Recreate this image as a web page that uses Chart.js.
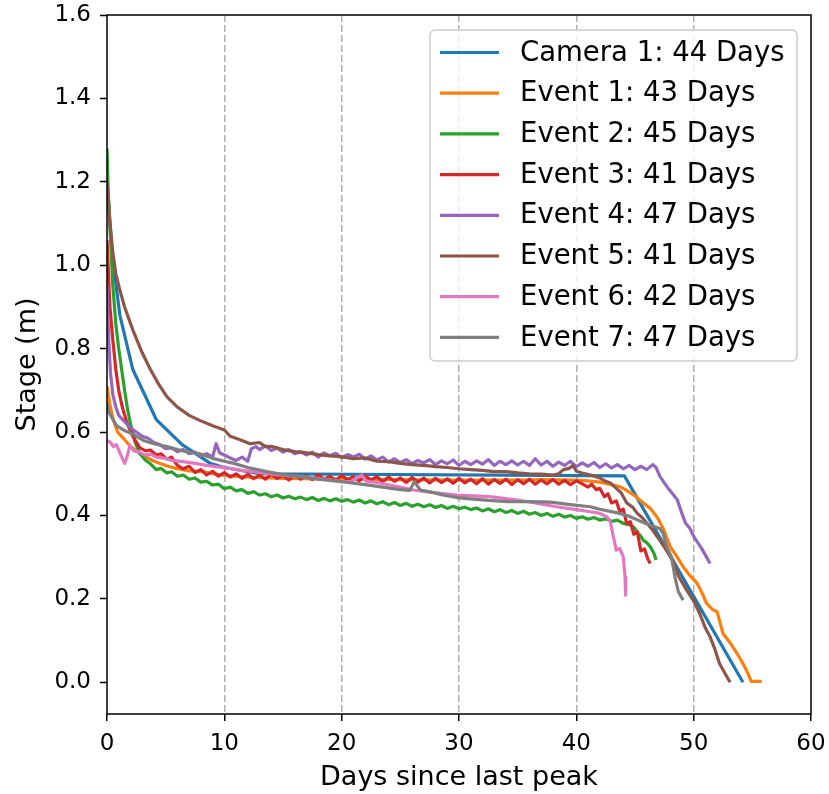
<!DOCTYPE html>
<html>
<head>
<meta charset="utf-8">
<script src="https://cdn.jsdelivr.net/npm/chart.js@4.4.0/dist/chart.umd.min.js"></script>
<style>
  html, body { margin: 0; padding: 0; background: #fff; }
  #wrap { width: 829px; height: 794px; }
</style>
</head>
<body>
<div id="wrap"><canvas id="stageChart" width="829" height="794"></canvas></div>
<script>
// ======================
// DATA  (days since last peak, stage in m)
// ======================
const seriesNames = [
    "Camera 1: 44 Days", "Event 1: 43 Days", "Event 2: 45 Days", "Event 3: 41 Days",
    "Event 4: 47 Days", "Event 5: 41 Days", "Event 6: 42 Days", "Event 7: 47 Days"
];
const seriesColors = ["#1f77b4", "#ff7f0e", "#2ca02c", "#d62728", "#9467bd", "#8c564b", "#e377c2", "#7f7f7f"];

const xTickValues = [0, 10, 20, 30, 40, 50, 60];
const yTickValues = [0.0, 0.2, 0.4, 0.6, 0.8, 1.0, 1.2, 1.4, 1.6];

const camera1 = [[0,1.2],[0.5,1.01],[1.1,0.88],[2.2,0.75],[4.2,0.63],[6.4,0.57],[8.8,0.525],[10,0.515],
    [13,0.5],[44.1,0.495],[54.2,0.0]];

const event1 = [[0,0.71],[0.25,0.665],[0.54,0.629],[0.9,0.6],[1.4,0.585],[2,0.565],[2.8,0.549],[4,0.53],
    [5,0.52],[6,0.512],[7,0.507],[8.2,0.505],[9,0.5],[10,0.496],[12,0.492],[15,0.489],[20,0.487],[25,0.486],
    [30,0.485],[35,0.485],[37,0.486],[40,0.485],[41,0.483],[42,0.48],[42.5,0.477],[43,0.474],[43.7,0.469],
    [44.3,0.46],[45.1,0.445],[45.7,0.43],[46.3,0.417],[46.9,0.395],[47.4,0.369],[48,0.325],[48.6,0.3],
    [49.1,0.277],[49.7,0.255],[50.3,0.237],[50.7,0.215],[51.1,0.189],[51.6,0.175],[52,0.169],[52.5,0.117],
    [53.1,0.095],[53.7,0.069],[54.1,0.05],[54.5,0.029],[54.9,0.002],[55.8,0.002]];

const event2 = [[0,1.28],[0.1,1.18],[0.25,1.09],[0.5,0.95],[0.75,0.86],[1,0.8],[1.25,0.75],[1.5,0.7],
    [1.75,0.655],[2,0.62],[2.4,0.575],[2.8,0.548],[3.3,0.532],[3.7,0.524],[4.2,0.51],[4.6,0.513],[5.1,0.502],
    [5.5,0.505],[6,0.494],[6.5,0.497],[7,0.487],[7.5,0.49],[8,0.48],[8.5,0.482],[9,0.473],[9.5,0.475],
    [10,0.464],[10.5,0.468],[11,0.459],[11.5,0.462],[12,0.453],[12.5,0.457],[13,0.449],[13.5,0.452],
    [14,0.445],[14.5,0.449],[15,0.442],[15.5,0.446],[16,0.44],[16.5,0.444],[17,0.438],[17.5,0.443],
    [18,0.436],[18.5,0.441],[19,0.435],[19.5,0.44],[20,0.434],[20.5,0.438],[21,0.432],[21.5,0.437],
    [22,0.43],[22.5,0.435],[23,0.428],[23.5,0.433],[24,0.426],[24.5,0.431],[25,0.424],[25.5,0.429],
    [26,0.422],[26.5,0.427],[27,0.421],[27.5,0.426],[28,0.419],[28.5,0.424],[29,0.417],[29.5,0.422],
    [30,0.416],[30.5,0.42],[31,0.414],[31.5,0.418],[32,0.411],[32.5,0.416],[33,0.409],[33.5,0.414],
    [34,0.407],[34.5,0.412],[35,0.405],[35.5,0.41],[36,0.403],[36.5,0.407],[37,0.4],[37.5,0.405],
    [38,0.398],[38.5,0.403],[39,0.396],[39.5,0.4],[40,0.393],[40.5,0.397],[41,0.391],[41.5,0.395],
    [42,0.389],[42.5,0.392],[43,0.386],[43.5,0.389],[44,0.381],[44.5,0.378],[44.9,0.372],[45.2,0.36],
    [45.5,0.35],[45.7,0.341],[46,0.335],[46.3,0.325],[46.6,0.31],[46.8,0.293]];

const event3 = [[0,1.06],[0.25,0.9],[0.5,0.82],[0.75,0.75],[1,0.7],[1.3,0.66],[1.7,0.622],[2.2,0.59],
    [2.8,0.562],[3.3,0.555],[3.7,0.557],[4.2,0.545],[4.6,0.548],[5.1,0.535],[5.5,0.54],[6,0.52],[6.5,0.512],
    [7,0.518],[7.5,0.503],[8,0.51],[8.5,0.497],[9,0.506],[9.5,0.494],[10,0.503],[10.5,0.492],[11,0.5],
    [11.5,0.489],[12,0.499],[12.5,0.488],[13,0.497],[13.5,0.487],[14,0.499],[14.5,0.489],[15,0.496],
    [15.5,0.485],[16,0.497],[16.5,0.487],[17,0.495],[17.5,0.486],[18,0.498],[18.5,0.487],[19,0.494],
    [19.5,0.484],[20,0.496],[20.5,0.486],[21,0.493],[21.5,0.483],[22,0.495],[22.5,0.485],[23,0.493],
    [23.5,0.481],[24,0.492],[24.5,0.482],[25,0.49],[25.5,0.479],[26,0.491],[26.5,0.48],[27,0.49],
    [27.5,0.478],[28,0.489],[28.5,0.479],[29,0.488],[29.5,0.477],[30,0.489],[30.5,0.478],[31,0.487],
    [31.5,0.476],[32,0.488],[32.5,0.475],[33,0.486],[33.5,0.477],[34,0.487],[34.5,0.474],[35,0.486],
    [35.5,0.476],[36,0.487],[36.5,0.475],[37,0.485],[37.5,0.476],[38,0.486],[38.5,0.475],[39,0.484],
    [39.5,0.474],[40,0.483],[40.5,0.476],[41,0.468],[41.3,0.475],[41.7,0.462],[42,0.465],[42.4,0.445],
    [42.7,0.452],[43,0.43],[43.4,0.435],[43.7,0.41],[44,0.415],[44.3,0.38],[44.6,0.385],[44.9,0.355],
    [45.2,0.36],[45.5,0.315],[45.8,0.32],[46.1,0.295],[46.3,0.285]];

const event4 = [[0,0.95],[0.15,0.82],[0.3,0.74],[0.5,0.69],[0.75,0.66],[1,0.64],[1.5,0.625],[2,0.61],
    [2.5,0.6],[3,0.59],[3.5,0.585],[4,0.575],[4.5,0.57],[5,0.56],[5.5,0.562],[6,0.553],[6.5,0.558],
    [7,0.548],[7.5,0.552],[8,0.543],[8.5,0.548],[9,0.54],[9.3,0.572],[9.6,0.55],[10,0.545],[10.5,0.538],
    [11,0.532],[11.5,0.54],[12,0.53],[12.3,0.56],[12.7,0.565],[13,0.558],[13.5,0.567],[14,0.556],
    [14.5,0.562],[15,0.552],[15.5,0.558],[16,0.548],[16.5,0.553],[17,0.545],[17.5,0.552],[18,0.54],
    [18.5,0.55],[19,0.543],[19.5,0.549],[20,0.538],[20.5,0.546],[21,0.54],[21.5,0.547],[22,0.535],
    [22.5,0.543],[23,0.533],[23.5,0.54],[24,0.528],[24.5,0.536],[25,0.527],[25.5,0.534],[26,0.524],
    [26.5,0.532],[27,0.526],[27.5,0.534],[28,0.522],[28.5,0.531],[29,0.524],[29.5,0.533],[30,0.52],
    [30.5,0.53],[31,0.522],[31.5,0.531],[32,0.523],[32.5,0.534],[33,0.52],[33.5,0.53],[34,0.522],
    [34.5,0.531],[35,0.521],[35.5,0.53],[36,0.52],[36.5,0.536],[37,0.521],[37.5,0.53],[38,0.518],
    [38.5,0.528],[39,0.52],[39.5,0.53],[40,0.517],[40.5,0.526],[41,0.518],[41.5,0.527],[42,0.515],
    [42.5,0.524],[43,0.514],[43.5,0.522],[44,0.512],[44.5,0.52],[45,0.51],[45.5,0.518],[46,0.51],
    [46.5,0.522],[46.8,0.515],[47.1,0.495],[47.5,0.478],[47.8,0.466],[48.2,0.452],[48.6,0.438],[49,0.405],
    [49.3,0.382],[49.7,0.368],[50,0.35],[50.3,0.337],[50.7,0.32],[51,0.305],[51.4,0.285]];

const event5 = [[0,1.2],[0.25,1.1],[0.5,1.03],[0.75,0.98],[1.1,0.94],[1.5,0.9],[2.2,0.845],[3,0.79],
    [3.7,0.75],[4.4,0.715],[5.1,0.685],[6,0.66],[7,0.64],[7.9,0.628],[9,0.615],[10,0.605],[10.5,0.59],
    [11,0.585],[11.5,0.58],[12.2,0.572],[13,0.575],[13.5,0.565],[14,0.566],[15,0.558],[16,0.553],[17,0.55],
    [18,0.546],[19,0.543],[20,0.541],[21,0.536],[22,0.538],[23,0.53],[24,0.529],[25,0.525],[26,0.522],
    [27,0.52],[28,0.517],[29,0.515],[30,0.512],[31,0.51],[32,0.508],[33,0.505],[34,0.505],[35,0.502],
    [36,0.5],[37,0.499],[38,0.497],[38.5,0.5],[38.9,0.51],[39.4,0.513],[39.7,0.52],[40,0.506],[40.5,0.502],
    [41.2,0.497],[42,0.49],[42.5,0.482],[42.9,0.478],[43.4,0.465],[43.8,0.455],[44.3,0.43],[44.8,0.42],
    [45.2,0.405],[45.6,0.395],[46,0.382],[46.5,0.365],[47.1,0.341],[47.6,0.32],[48.2,0.293],[48.7,0.255],
    [49.4,0.221],[50,0.195],[50.5,0.166],[51,0.13],[51.4,0.109],[51.8,0.08],[52.2,0.045],[52.7,0.02],
    [53.1,0.0]];

const event6 = [[0,0.58],[0.3,0.575],[0.54,0.565],[0.8,0.57],[1.1,0.55],[1.5,0.525],[1.7,0.54],[1.96,0.568],
    [2.3,0.555],[2.8,0.552],[3.2,0.545],[3.7,0.547],[4.2,0.54],[5,0.537],[5.5,0.532],[6.5,0.529],[7.5,0.525],
    [8.5,0.52],[9.3,0.517],[10.5,0.513],[11.5,0.508],[12.5,0.505],[13.6,0.501],[14.5,0.498],[15.5,0.495],
    [16.5,0.493],[17.5,0.49],[18.5,0.487],[19.3,0.484],[20,0.481],[20.8,0.482],[21.3,0.49],[21.7,0.497],
    [22.1,0.482],[23,0.479],[24.1,0.473],[25,0.468],[26.1,0.461],[27.5,0.456],[29.8,0.449],[32.6,0.445],
    [35,0.437],[36.5,0.43],[38.3,0.421],[40,0.414],[41.2,0.409],[42,0.405],[42.6,0.397],[42.9,0.385],
    [43.15,0.35],[43.4,0.317],[43.7,0.321],[44,0.301],[44.15,0.253],[44.2,0.209]];

const event7 = [[0,0.67],[0.2,0.645],[0.54,0.629],[0.83,0.615],[1.4,0.605],[2.2,0.595],[3.1,0.58],[4,0.572],
    [5.1,0.565],[6,0.558],[7,0.552],[7.9,0.548],[9,0.537],[10,0.53],[10.8,0.525],[12,0.515],[13.6,0.505],
    [15,0.498],[16.4,0.493],[18,0.487],[20,0.481],[22,0.474],[23.5,0.468],[25,0.462],[25.8,0.46],
    [26.2,0.481],[26.7,0.461],[27.5,0.457],[28.5,0.45],[29.8,0.443],[31,0.44],[32.5,0.436],[34.1,0.433],
    [36,0.433],[37.8,0.432],[39.5,0.426],[41.2,0.421],[42,0.415],[43.7,0.405],[44.5,0.398],[45.4,0.387],
    [46.2,0.378],[47.1,0.369],[47.4,0.357],[47.7,0.325],[48.1,0.301],[48.4,0.253],[48.7,0.217],[49.1,0.197]];

const seriesData = [camera1, event1, event2, event3, event4, event5, event6, event7];

// ======================
// PLUGINS: axes frame + matplotlib style legend
// ======================
const frameBox = {
    id: "frameBox",
    afterDatasetsDraw(chart) {
        const { ctx, chartArea: a } = chart;
        ctx.save();
        ctx.strokeStyle = "#000";
        ctx.lineWidth = 1.5;
        ctx.strokeRect(a.left, a.top, a.right - a.left, a.bottom - a.top);
        ctx.restore();
    }
};

const legendBox = {
    id: "legendBox",
    afterDraw(chart) {
        const { ctx, chartArea: a } = chart;
        const w = 367, h = 331;
        const x = a.right - 14 - w, y = a.top + 15, r = 5;
        ctx.save();
        ctx.beginPath();
        ctx.moveTo(x + r, y);
        ctx.arcTo(x + w, y, x + w, y + h, r);
        ctx.arcTo(x + w, y + h, x, y + h, r);
        ctx.arcTo(x, y + h, x, y, r);
        ctx.arcTo(x, y, x + w, y, r);
        ctx.closePath();
        ctx.fillStyle = "rgba(255,255,255,0.8)";
        ctx.fill();
        ctx.strokeStyle = "#cccccc";
        ctx.lineWidth = 1.5;
        ctx.stroke();

        ctx.font = "27.5px 'DejaVu Sans'";
        ctx.textBaseline = "middle";
        ctx.textAlign = "left";
        seriesNames.forEach((name, i) => {
            const rowY = y + 22.5 + i * 40.7;
            ctx.strokeStyle = seriesColors[i];
            ctx.lineWidth = 3.2;
            ctx.beginPath();
            ctx.moveTo(x + 10, rowY);
            ctx.lineTo(x + 69, rowY);
            ctx.stroke();
            ctx.fillStyle = "#000";
            ctx.fillText(name, x + 90, rowY + 1);
        });
        ctx.restore();
    }
};

// ======================
// RENDER STAGE CHART (Line Chart)
// ======================
Chart.defaults.font.family = "'DejaVu Sans', sans-serif";
Chart.defaults.color = "#000";

const ctx = document.getElementById("stageChart");

new Chart(ctx, {
    type: "line",
    data: {
        datasets: seriesData.map((pts, i) => ({
            label: seriesNames[i],
            data: pts.map(p => ({ x: p[0], y: p[1] })),
            borderColor: seriesColors[i],
            backgroundColor: seriesColors[i],
            borderWidth: 3.2,
            pointRadius: 0,
            tension: 0,
            fill: false,
            borderJoinStyle: "round",
            order: seriesData.length - i
        }))
    },
    options: {
        responsive: false,
        devicePixelRatio: 1,
        animation: false,
        layout: { padding: { top: 15, right: 18, left: 0, bottom: 0 } },
        plugins: {
            legend: { display: false },
            tooltip: { enabled: false }
        },
        scales: {
            x: {
                type: "linear",
                min: 0,
                max: 60,
                afterBuildTicks: s => { s.ticks = xTickValues.map(v => ({ value: v })); },
                afterFit: s => { s.height = 80; s.paddingLeft = 0; s.paddingRight = 0; },
                ticks: { font: { size: 23 }, padding: 9, maxRotation: 0 },
                grid: {
                    color: c => (c.tick && (c.tick.value === 0 || c.tick.value === 60)) ? "rgba(0,0,0,0)" : "#b0b0b0",
                    lineWidth: 1.5,
                    tickColor: "#000",
                    tickWidth: 1.5,
                    tickLength: 7,
                    tickBorderDash: []
                },
                border: { display: false, dash: [7, 3] },
                title: {
                    display: true,
                    text: "Days since last peak",
                    font: { size: 27 },
                    padding: { top: 0, bottom: 0 }
                }
            },
            y: {
                type: "linear",
                min: -0.076,
                max: 1.6,
                afterBuildTicks: s => { s.ticks = yTickValues.map(v => ({ value: v })); },
                afterFit: s => { s.width = 107; s.paddingTop = 0; s.paddingBottom = 0; },
                ticks: {
                    font: { size: 23 },
                    padding: 9,
                    callback: v => Number(v).toFixed(1)
                },
                grid: {
                    drawOnChartArea: false,
                    tickColor: "#000",
                    tickWidth: 1.5,
                    tickLength: 7
                },
                border: { display: false },
                title: {
                    display: true,
                    text: "Stage (m)",
                    font: { size: 27 },
                    padding: { top: 12, bottom: 0 }
                }
            }
        }
    },
    plugins: [frameBox, legendBox]
});
</script>
</body>
</html>
